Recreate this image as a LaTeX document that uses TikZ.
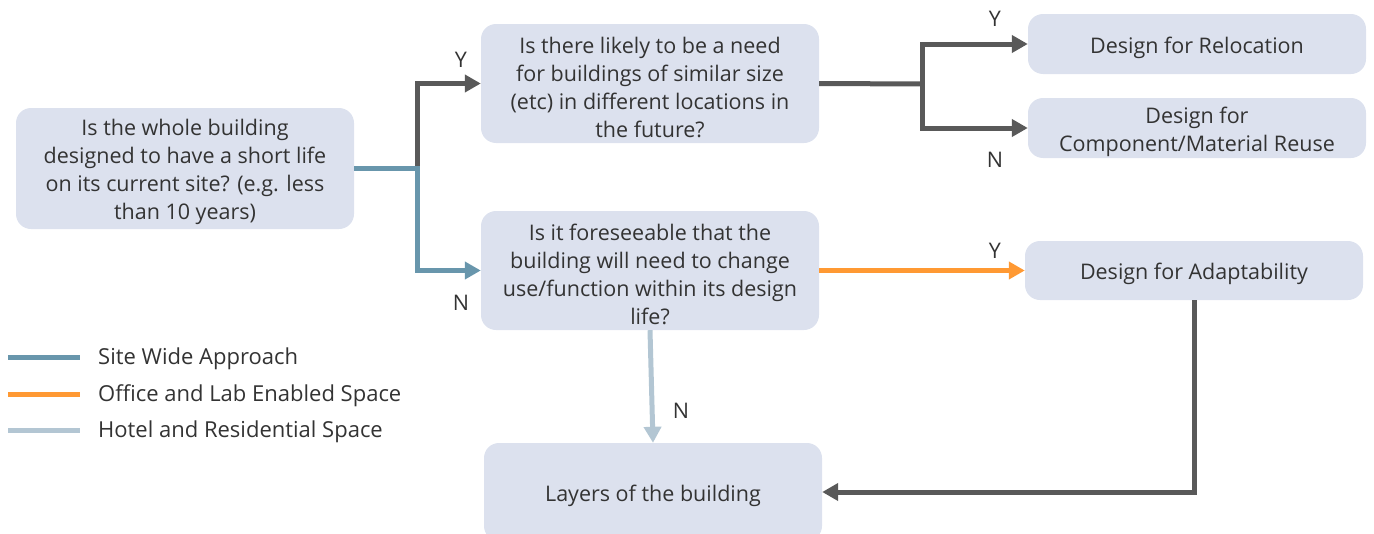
\documentclass[tikz,border=0pt]{standalone}
\usepackage{fontspec}
\setmainfont{Open Sans}
\usetikzlibrary{arrows.meta}
\definecolor{boxfill}{HTML}{DCE1EE}
\definecolor{txt}{HTML}{333333}
\definecolor{dgrey}{HTML}{595959}
\definecolor{siteblue}{HTML}{6896AC}
\definecolor{office}{HTML}{FF9933}
\definecolor{hotel}{HTML}{B3C6D3}
\tikzset{
  qbox/.style={fill=boxfill, rounded corners=15pt, minimum width=338pt, inner sep=0pt},
  qtext/.style={align=center, text=txt, font=\fontsize{21.5}{28}\selectfont, inner sep=0pt, yshift=-3.5pt},
  conn/.style={line width=5pt, -{Triangle[length=16pt,width=17pt]}},
  plain/.style={line width=5pt},
  lbl/.style={text=txt, font=\fontsize{21.5}{26}\selectfont, inner sep=0pt},
  leg/.style={text=txt, font=\fontsize{22}{26}\selectfont, inner sep=0pt, anchor=west, yshift=-2pt},
}
\begin{document}
\begin{tikzpicture}[x=1pt,y=-1pt]
\useasboundingbox (0,0) rectangle (1374,533);
\node[qbox, minimum height=121pt] (A) at (185,168.5) {};
\node[qbox, minimum height=119pt] (B) at (650,83.5) {};
\node[qbox, minimum height=119pt] (C) at (650,270.5) {};
\node[qbox, minimum height=60pt] (D) at (1197,44) {};
\node[qbox, minimum height=60pt] (E) at (1197,128) {};
\node[qbox, minimum height=59pt] (F) at (1194,270.5) {};
\node[qbox, minimum height=98pt] (G) at (653,492) {};
\node[qtext] (At) at (A.center) {Is the whole building\\designed to have a short life\\on its current site? (e.g. less\\than 10 years)};
\node[qtext] (Bt) at (B.center) {Is there likely to be a need\\for buildings of similar size\\(etc) in different locations in\\the future?};
\node[qtext] (Ct) at (C.center) {Is it foreseeable that the\\building will need to change\\use/function within its design\\life?};
\node[qtext] (Dt) at (D.center) {Design for Relocation};
\node[qtext] (Et) at (E.center) {Design for\\Component/Material Reuse};
\node[qtext] (Ft) at (F.center) {Design for Adaptability};
\node[qtext] (Gt) at (G.center) {Layers of the building};
% junctions
\coordinate (j1) at (417,168.5);
\coordinate (j2) at (922,84);
% A -> B (grey), A -> C (blue)
\draw[conn, dgrey] (j1) |- (B.west);
\draw[conn, siteblue] (A.east) -- (j1) |- (C.west);
% B -> D, E
\draw[plain, dgrey] (B.east) -- (j2);
\draw[conn, dgrey] (j2) |- (D.west);
\draw[conn, dgrey] (j2) |- (E.west);
% C -> F
\draw[conn, office] (C.east) -- (F.west);
% C -> G
\draw[conn, hotel] (C.south) -- (G.north);
% F -> G
\draw[conn, dgrey] (F.south) |- (G.east);
% labels
\node[lbl] (yb) at (461,60) {Y};
\node[lbl] (nc) at (461,303) {N};
\node[lbl] (yd) at (995,19) {Y};
\node[lbl] (ne) at (995,160) {N};
\node[lbl] (yf) at (995,251) {Y};
\node[lbl] (ng) at (681,411) {N};
% legend
\coordinate (l1a) at (8,357); \coordinate (l1b) at (80,357);
\coordinate (l2a) at (8,394); \coordinate (l2b) at (80,394);
\coordinate (l3a) at (8,430); \coordinate (l3b) at (80,430);
\draw[plain, siteblue] (l1a) -- (l1b);
\draw[plain, office] (l2a) -- (l2b);
\draw[plain, hotel] (l3a) -- (l3b);
\node[leg] (t1) at (98,357) {Site Wide Approach};
\node[leg] (t2) at (98,394) {Office and Lab Enabled Space};
\node[leg] (t3) at (98,430) {Hotel and Residential Space};
\end{tikzpicture}
\end{document}
